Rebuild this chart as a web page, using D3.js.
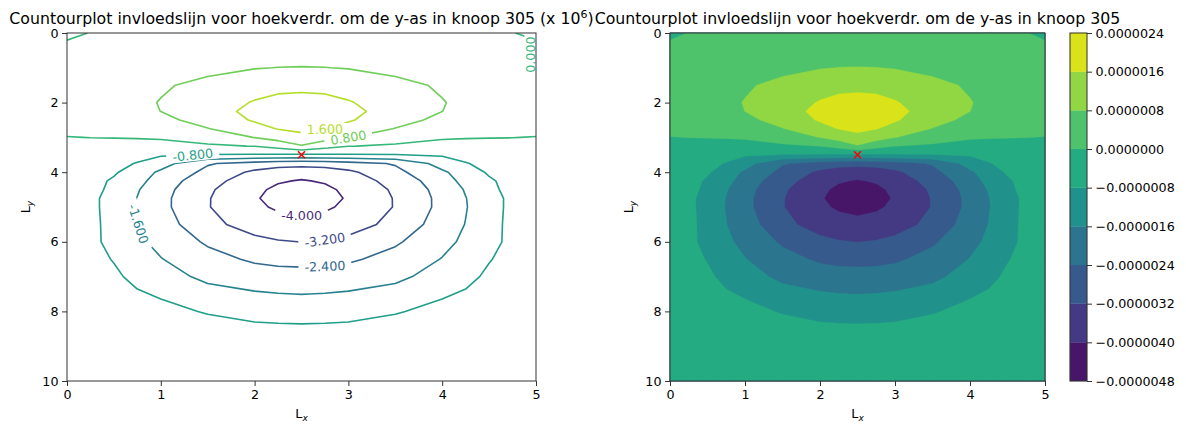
<!DOCTYPE html>
<html lang='en'>
<head>
<meta charset='UTF-8'>
<title>Countourplot invloedslijn</title>
<script src='https://cdn.jsdelivr.net/npm/d3@7'></script>
<style>
  body { margin: 0; background: #fff; }
  text { font-family: 'DejaVu Sans', sans-serif; fill: #000; }
</style>
</head>
<body>
<script>
const xs = [0, 0.25, 0.5, 0.75, 1, 1.5, 2, 2.25, 2.5, 2.75, 3, 3.5, 4, 4.25, 4.5, 4.75, 5];
const ys = [0, 0.5, 1, 1.5, 2, 2.25, 2.5, 2.75, 3, 3.25, 3.5, 3.75, 4, 4.25, 4.5, 4.75, 5, 5.5, 6, 6.5, 7, 7.5, 8, 8.5, 9, 10];

const values = [
  [-0.07, 0.01, 0.13, 0.20, 0.25, 0.31, 0.34, 0.35, 0.35, 0.35, 0.34, 0.31, 0.25, 0.20, 0.13, 0.01, -0.07],
  [0.10, 0.17, 0.24, 0.30, 0.36, 0.44, 0.50, 0.52, 0.52, 0.52, 0.50, 0.44, 0.36, 0.30, 0.24, 0.17, 0.10],
  [0.18, 0.27, 0.36, 0.43, 0.50, 0.62, 0.77, 0.81, 0.82, 0.81, 0.77, 0.62, 0.50, 0.43, 0.36, 0.27, 0.18],
  [0.24, 0.34, 0.46, 0.58, 0.72, 0.98, 1.24, 1.32, 1.35, 1.32, 1.24, 0.98, 0.72, 0.58, 0.46, 0.34, 0.24],
  [0.22, 0.34, 0.48, 0.66, 0.83, 1.18, 1.66, 1.88, 1.95, 1.88, 1.66, 1.18, 0.83, 0.66, 0.48, 0.34, 0.22],
  [0.22, 0.33, 0.46, 0.62, 0.805, 1.20, 1.85, 2.07, 2.15, 2.07, 1.85, 1.20, 0.805, 0.62, 0.46, 0.33, 0.22],
  [0.19, 0.27, 0.36, 0.47, 0.60, 1.10, 1.68, 2.00, 2.10, 2.00, 1.68, 1.10, 0.60, 0.47, 0.36, 0.27, 0.19],
  [0.08, 0.13, 0.18, 0.25, 0.35, 0.77, 1.35, 1.63, 1.85, 1.63, 1.35, 0.77, 0.35, 0.25, 0.18, 0.13, 0.08],
  [-0.01, 0.005, 0.01, 0.02, 0.04, 0.30, 0.82, 1.10, 1.30, 1.10, 0.82, 0.30, 0.04, 0.02, 0.01, 0.005, -0.01],
  [-0.09, -0.10, -0.11, -0.12, -0.12, -0.10, 0.02, 0.30, 0.75, 0.30, 0.02, -0.10, -0.12, -0.12, -0.11, -0.10, -0.09],
  [-0.25, -0.33, -0.45, -0.58, -0.70, -0.82, -0.86, -0.88, -0.90, -0.88, -0.86, -0.82, -0.70, -0.58, -0.45, -0.33, -0.25],
  [-0.33, -0.42, -0.60, -0.84, -1.29, -2.33, -2.70, -2.85, -2.90, -2.85, -2.70, -2.33, -1.29, -0.84, -0.60, -0.42, -0.33],
  [-0.36, -0.45, -0.69, -1.25, -1.72, -2.62, -3.36, -3.62, -3.70, -3.62, -3.36, -2.62, -1.72, -1.25, -0.69, -0.45, -0.36],
  [-0.40, -0.50, -0.92, -1.35, -1.97, -2.90, -3.65, -3.93, -4.05, -3.93, -3.65, -2.90, -1.97, -1.35, -0.92, -0.50, -0.40],
  [-0.44, -0.53, -1.01, -1.54, -2.11, -3.08, -3.84, -4.15, -4.30, -4.15, -3.84, -3.08, -2.11, -1.54, -1.01, -0.53, -0.44],
  [-0.47, -0.60, -1.12, -1.62, -2.18, -3.15, -3.92, -4.27, -4.40, -4.27, -3.92, -3.15, -2.18, -1.62, -1.12, -0.60, -0.47],
  [-0.47, -0.60, -1.12, -1.64, -2.18, -3.16, -3.82, -4.13, -4.30, -4.13, -3.82, -3.16, -2.18, -1.64, -1.12, -0.60, -0.47],
  [-0.48, -0.58, -1.09, -1.58, -2.00, -3.00, -3.50, -3.64, -3.70, -3.64, -3.50, -3.00, -2.00, -1.58, -1.09, -0.58, -0.48],
  [-0.50, -0.65, -0.98, -1.46, -1.81, -2.51, -3.02, -3.15, -3.21, -3.15, -3.02, -2.51, -1.81, -1.46, -0.98, -0.65, -0.50],
  [-0.48, -0.62, -0.83, -1.19, -1.57, -2.12, -2.52, -2.62, -2.65, -2.62, -2.52, -2.12, -1.57, -1.19, -0.83, -0.62, -0.48],
  [-0.42, -0.52, -0.70, -0.95, -1.25, -1.80, -2.01, -2.08, -2.10, -2.08, -2.01, -1.80, -1.25, -0.95, -0.70, -0.52, -0.42],
  [-0.38, -0.48, -0.60, -0.74, -0.86, -1.30, -1.52, -1.58, -1.61, -1.58, -1.52, -1.30, -0.86, -0.74, -0.60, -0.48, -0.38],
  [-0.33, -0.40, -0.48, -0.56, -0.65, -0.84, -1.03, -1.08, -1.10, -1.08, -1.03, -0.84, -0.65, -0.56, -0.48, -0.40, -0.33],
  [-0.30, -0.36, -0.42, -0.47, -0.52, -0.60, -0.65, -0.67, -0.68, -0.67, -0.65, -0.60, -0.52, -0.47, -0.42, -0.36, -0.30],
  [-0.22, -0.26, -0.30, -0.33, -0.36, -0.41, -0.44, -0.45, -0.45, -0.45, -0.44, -0.41, -0.36, -0.33, -0.30, -0.26, -0.22],
  [-0.15, -0.17, -0.19, -0.21, -0.23, -0.25, -0.26, -0.27, -0.27, -0.27, -0.26, -0.25, -0.23, -0.21, -0.19, -0.17, -0.15]
];

// contour levels (x 1e-6) and axis ticks
const levels = [-4.8, -4.0, -3.2, -2.4, -1.6, -0.8, 0, 0.8, 1.6, 2.4];
const xTicks = [0, 1, 2, 3, 4, 5];
const yTicks = [0, 2, 4, 6, 8, 10];
const node = [2.5, 3.5];   // knoop 305

const titleLeft = 'Countourplot invloedslijn voor hoekverdr. om de y-as in knoop 305';
const titleRight = 'Countourplot invloedslijn voor hoekverdr. om de y-as in knoop 305';

// where the inline labels sit (data coords), like clabel's manual spots
const labelSpots = [
  {level: 1.6, x: 2.75, y: 2.79},
  {level: 0.8, x: 3.0, y: 3.02},
  {level: -0.8, x: 1.34, y: 3.48},
  {level: -1.6, x: 0.75, y: 5.49},
  {level: -2.4, x: 2.75, y: 6.72},
  {level: -3.2, x: 2.75, y: 6.0},
  {level: -4.0, x: 2.5, y: 5.23},
  {level: 0, x: 4.94, y: 0.62, angle: -90}
];

const width = 1186, height = 425;
const plotTop = 33, plotBottom = 381;
const fontSize = 12.7;
const titleSize = 15.75;

const svg = d3.select('body').append('svg')
  .attr('width', width).attr('height', height);
const defs = svg.append('defs');

// grid index -> data coordinates (samples sit on i + 0.5)
const gx = d3.scaleLinear().domain(xs.map((d, i) => i + 0.5)).range(xs).clamp(true);
const gy = d3.scaleLinear().domain(ys.map((d, i) => i + 0.5)).range(ys).clamp(true);
const nx = xs.length, ny = ys.length;

const shapes = d3.contours().size([nx, ny]).thresholds(levels)(values.flat());

const bandColor = i => d3.interpolateViridis((i + 0.5) / (levels.length - 1));
const lineColor = v => d3.interpolateViridis((v - levels[0]) / (levels[levels.length - 1] - levels[0]));

const fmtLabel = d3.formatLocale({decimal: '.', thousands: ',', grouping: [3], currency: ['', ''], minus: '-'}).format('.3f');
const fmtBar = d3.format('.7f');

function drawAxes(g, x, y, x0, x1) {
  g.append('g').attr('transform', 'translate(0,' + plotBottom + ')')
    .call(d3.axisBottom(x).tickValues(xTicks).tickSize(5).tickPadding(3.5).tickFormat(d3.format('d')))
    .call(a => a.select('.domain').remove());
  g.append('g').attr('transform', 'translate(' + x0 + ',0)')
    .call(d3.axisLeft(y).tickValues(yTicks).tickSize(5).tickPadding(3.5).tickFormat(d3.format('d')))
    .call(a => a.select('.domain').remove());
  g.selectAll('.tick line').attr('stroke', '#333');
  g.selectAll('.tick text').attr('font-size', fontSize).attr('font-family', 'DejaVu Sans').attr('fill', '#000');
  g.append('rect').attr('x', x0).attr('y', plotTop).attr('width', x1 - x0).attr('height', plotBottom - plotTop)
    .attr('fill', 'none').attr('stroke', '#333').attr('stroke-width', 1);

  // L_x and L_y
  const lx = g.append('text').attr('x', (x0 + x1) / 2).attr('y', 418)
    .attr('text-anchor', 'middle').attr('font-size', fontSize).text('L');
  lx.append('tspan').attr('font-style', 'italic').attr('font-size', 9).attr('dy', 3).text('x');
  const ly = g.append('text').attr('transform', 'translate(' + (x0 - 37) + ',' + ((plotTop + plotBottom) / 2) + ') rotate(-90)')
    .attr('text-anchor', 'middle').attr('font-size', fontSize).text('L');
  ly.append('tspan').attr('font-style', 'italic').attr('font-size', 9).attr('dy', 3).text('y');
}

function drawNode(g, x, y) {
  const cx = x(node[0]), cy = y(node[1]), r = 3.5;
  g.append('path')
    .attr('d', 'M' + (cx - r) + ',' + (cy - r) + 'L' + (cx + r) + ',' + (cy + r) +
               'M' + (cx - r) + ',' + (cy + r) + 'L' + (cx + r) + ',' + (cy - r))
    .attr('stroke', 'red').attr('stroke-width', 1.5).attr('fill', 'none');
}

// ---------------- left: contour lines ----------------
const xL = d3.scaleLinear().domain([0, 5]).range([67, 536]);
const yL = d3.scaleLinear().domain([0, 10]).range([plotTop, plotBottom]);
const gLeft = svg.append('g');

defs.append('clipPath').attr('id', 'clipL').append('rect')
  .attr('x', 67).attr('y', plotTop).attr('width', 536 - 67).attr('height', plotBottom - plotTop);
const mask = defs.append('mask').attr('id', 'gaps').attr('maskUnits', 'userSpaceOnUse')
  .attr('x', 0).attr('y', 0).attr('width', width).attr('height', height);
mask.append('rect').attr('width', width).attr('height', height).attr('fill', 'white');

const onFrame = p => p[0] <= 0 || p[0] >= nx || p[1] <= 0 || p[1] >= ny;

// keep only the parts of each ring that are not on the outer frame
function ringToLines(ring) {
  const pts = ring.slice(0, -1);
  const k = pts.findIndex(onFrame);
  if (k < 0) return [ring];
  const rot = pts.slice(k).concat(pts.slice(0, k));
  const out = [];
  let cur = [];
  rot.forEach(p => {
    if (onFrame(p)) { if (cur.length > 1) out.push(cur); cur = []; }
    else cur.push(p);
  });
  if (cur.length > 1) out.push(cur);
  return out;
}

const levelLines = {};
shapes.forEach(s => {
  const lines = [];
  s.coordinates.forEach(poly => poly.forEach(ring => {
    ringToLines(ring).forEach(l => lines.push(l.map(p => [xL(gx(p[0])), yL(gy(p[1]))])));
  }));
  levelLines[s.value] = lines;
});

const lineGen = d3.line();
const linesG = gLeft.append('g').attr('clip-path', 'url(#clipL)')
  .append('g').attr('mask', 'url(#gaps)');
levels.forEach(v => {
  linesG.selectAll(null).data(levelLines[v]).enter().append('path')
    .attr('d', lineGen)
    .attr('fill', 'none')
    .attr('stroke', lineColor(v))
    .attr('stroke-width', 1.6)
    .attr('stroke-linejoin', 'round');
});

function nearestOnLines(lines, px, py) {
  let best = null;
  lines.forEach(line => {
    for (let i = 0; i < line.length - 1; i++) {
      const [ax, ay] = line[i], [bx, by] = line[i + 1];
      const dx = bx - ax, dy = by - ay, len2 = dx * dx + dy * dy || 1;
      const t = Math.max(0, Math.min(1, ((px - ax) * dx + (py - ay) * dy) / len2));
      const qx = ax + t * dx, qy = ay + t * dy;
      const d = (qx - px) * (qx - px) + (qy - py) * (qy - py);
      if (!best || d < best.d) best = {d, x: qx, y: qy, line, i};
    }
  });
  const L = best.line;
  const a = L[Math.max(0, best.i - 1)], b = L[Math.min(L.length - 1, best.i + 2)];
  let ang = Math.atan2(b[1] - a[1], b[0] - a[0]) * 180 / Math.PI;
  if (ang > 90) ang -= 180;
  if (ang < -90) ang += 180;
  return {x: best.x, y: best.y, angle: ang};
}

const labelsG = gLeft.append('g');
labelSpots.forEach(s => {
  let pos;
  if (s.angle !== undefined) pos = {x: xL(s.x), y: yL(s.y), angle: s.angle};
  else pos = nearestOnLines(levelLines[s.level], xL(s.x), yL(s.y));
  const t = labelsG.append('text')
    .attr('transform', 'translate(' + pos.x + ',' + pos.y + ') rotate(' + pos.angle + ')')
    .attr('text-anchor', 'middle').attr('dy', '0.36em')
    .attr('font-size', fontSize)
    .style('fill', lineColor(s.level))
    .text(fmtLabel(s.level));
  const w = t.node().getComputedTextLength() + 12;
  mask.append('rect')
    .attr('x', -w / 2).attr('y', -6).attr('width', w).attr('height', 12)
    .attr('transform', 'translate(' + pos.x + ',' + pos.y + ') rotate(' + pos.angle + ')')
    .attr('fill', 'black');
});

drawNode(gLeft, xL, yL);
drawAxes(gLeft, xL, yL, 67, 536);

const tl = svg.append('text').attr('x', 301.5).attr('y', 24).attr('text-anchor', 'middle')
  .attr('font-size', titleSize).text(titleLeft + ' (x 10');
tl.append('tspan').attr('dy', -6).attr('font-size', 11).text('6');
tl.append('tspan').attr('dy', 6).text(')');

// ---------------- right: filled contours ----------------
const xR = d3.scaleLinear().domain([0, 5]).range([670, 1045]);
const yR = yL;
const gRight = svg.append('g');

const fillPath = d3.geoPath(d3.geoTransform({
  point: function (x, y) { this.stream.point(xR(gx(x)), yR(gy(y))); }
}));

gRight.selectAll('path.band')
  .data(shapes.filter((s, i) => i < levels.length - 1))
  .enter().append('path')
  .attr('class', 'band')
  .attr('d', fillPath)
  .attr('fill', (d, i) => bandColor(i))
  .attr('stroke', (d, i) => bandColor(i))
  .attr('stroke-width', 0.3);

drawNode(gRight, xR, yR);
drawAxes(gRight, xR, yR, 670, 1045);

svg.append('text').attr('x', 857.5).attr('y', 24).attr('text-anchor', 'middle')
  .attr('font-size', titleSize).text(titleRight);

// ---------------- colorbar ----------------
const cbX = 1070, cbW = 17;
const yC = d3.scaleLinear().domain([levels[0], levels[levels.length - 1]]).range([plotBottom, plotTop]);
const cb = svg.append('g');
cb.selectAll('rect.cb')
  .data(d3.pairs(levels))
  .enter().append('rect')
  .attr('class', 'cb')
  .attr('x', cbX).attr('width', cbW)
  .attr('y', d => yC(d[1]))
  .attr('height', d => yC(d[0]) - yC(d[1]))
  .attr('fill', (d, i) => bandColor(i))
  .attr('stroke', (d, i) => bandColor(i))
  .attr('stroke-width', 0.3);
cb.append('rect').attr('x', cbX).attr('y', plotTop).attr('width', cbW).attr('height', plotBottom - plotTop)
  .attr('fill', 'none').attr('stroke', '#333').attr('stroke-width', 1);
cb.append('g').attr('transform', 'translate(' + (cbX + cbW) + ',0)')
  .call(d3.axisRight(yC).tickValues(levels).tickSize(5).tickPadding(3.5).tickFormat(v => fmtBar(v * 1e-6)))
  .call(a => a.select('.domain').remove())
  .call(a => a.selectAll('.tick line').attr('stroke', '#333'))
  .call(a => a.selectAll('.tick text').attr('font-size', fontSize).attr('font-family', 'DejaVu Sans').attr('fill', '#000'));
</script>
</body>
</html>
